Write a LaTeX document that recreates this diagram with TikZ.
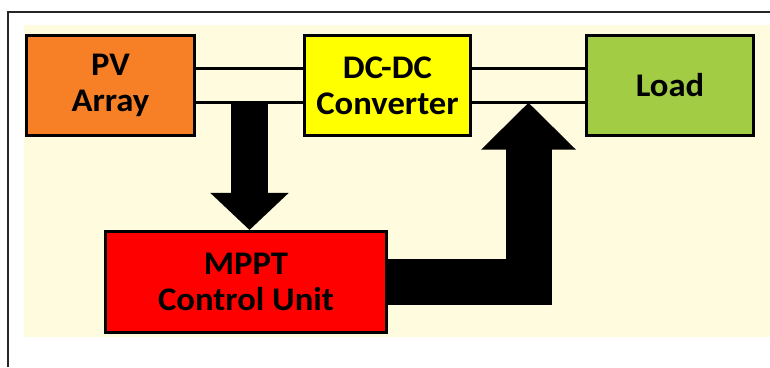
\documentclass[tikz,border=0pt]{standalone}
\usepackage{fontspec}
\setmainfont{Carlito}[FakeStretch=1.05]
\usetikzlibrary{arrows.meta,calc}

\definecolor{pvorange}{RGB}{247,127,38}
\definecolor{convyellow}{RGB}{255,255,0}
\definecolor{loadgreen}{RGB}{162,204,68}
\definecolor{mpptred}{RGB}{255,0,0}
\definecolor{cream}{RGB}{254,251,222}

\begin{document}
\begin{tikzpicture}[x=1pt,y=1pt,line width=3pt,
  block/.style={draw=black,line width=3pt,minimum height=100pt,inner sep=0pt,
    align=center,font=\bfseries\fontsize{33}{36}\selectfont},
  fatarrow/.style n args={3}{line width=#1,-{Triangle[width=#2,length=#3]}}]
  \useasboundingbox (0,0) rectangle (770,367);
  % page frame and background
  \fill[cream] (24,30) rectangle (770,342);
  \draw[line width=1.5pt,black!85] (8,0) -- (8,355) -- (770,355);
  % blocks
  \node[block,fill=pvorange,minimum width=168pt]   (pv)   at (110.5,281.5) {PV\\Array};
  \node[block,fill=convyellow,minimum width=166pt] (conv) at (387.5,281.5) {DC-DC\\Converter};
  \node[block,fill=loadgreen,minimum width=167pt]  (load) at (670,281.5)   {Load};
  \node[block,fill=mpptred,minimum width=281pt,minimum height=101pt] (mppt) at (246,85) {MPPT\\Control Unit};
  % power lines (upper and lower conductor)
  \coordinate (pvA)   at ($(pv.north east)!1/3!(pv.south east)$);
  \coordinate (pvB)   at ($(pv.north east)!2/3!(pv.south east)$);
  \coordinate (convA) at ($(conv.north west)!1/3!(conv.south west)$);
  \coordinate (convB) at ($(conv.north west)!2/3!(conv.south west)$);
  \coordinate (outA)  at ($(conv.north east)!1/3!(conv.south east)$);
  \coordinate (outB)  at ($(conv.north east)!2/3!(conv.south east)$);
  \coordinate (ldA)   at ($(load.north west)!1/3!(load.south west)$);
  \coordinate (ldB)   at ($(load.north west)!2/3!(load.south west)$);
  \draw (pvA) -- (convA);
  \draw (pvB) -- (convB);
  \draw (outA) -- (ldA);
  \draw (outB) -- (ldB);
  % sensing and control arrows
  \coordinate (tapA) at ($(pvB)!0.5!(convB)$);
  \coordinate (tapB) at ($(outB)!0.5!(ldB)$);
  \draw[fatarrow={37pt}{76pt}{37pt}] (tapA) -- (tapA |- mppt.north);
  \draw[fatarrow={46pt}{92pt}{47pt}] (mppt.east) -| (tapB);
\end{tikzpicture}
\end{document}
